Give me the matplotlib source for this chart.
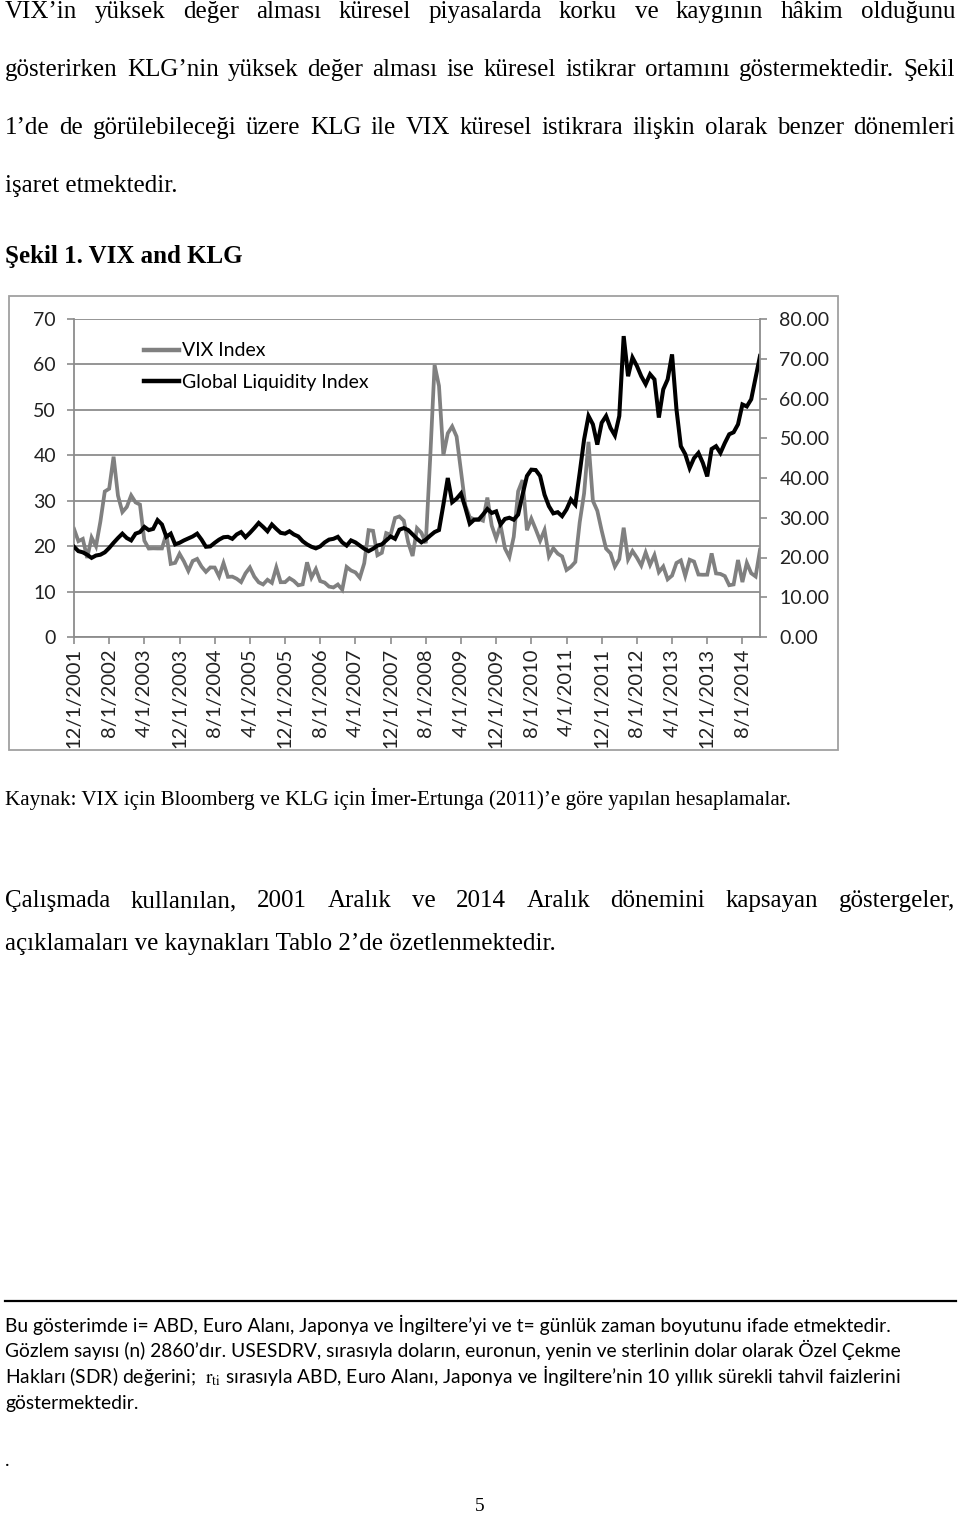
import matplotlib
matplotlib.use('Agg')
import matplotlib.pyplot as plt
import pandas as pd
from matplotlib.patches import Rectangle
from matplotlib.lines import Line2D

# aylik veriler: 12/2001 - 12/2014
vix = [23.80,
       21.09, 21.59, 17.40, 21.91, 19.98, 25.40, 32.03, 32.64, 39.69, 31.12, 27.50, 28.62,
       31.17, 29.63, 29.15, 21.21, 19.47, 19.52, 19.49, 19.49, 22.72, 16.10, 16.32, 18.31,
       16.63, 14.55, 16.74, 17.19, 15.50, 14.34, 15.32, 15.29, 13.34, 16.27, 13.24, 13.29,
       12.82, 12.08, 14.02, 15.31, 13.29, 12.04, 11.57, 12.60, 11.92, 15.32, 12.06, 12.07,
       12.95, 12.34, 11.39, 11.59, 16.44, 13.08, 14.95, 12.31, 11.98, 11.10, 10.91, 11.56,
       10.42, 15.42, 14.64, 14.22, 13.05, 16.23, 23.52, 23.38, 18.00, 18.53, 22.87, 22.50,
       26.20, 26.54, 25.61, 20.79, 17.83, 23.95, 22.94, 20.65, 39.39, 59.89, 55.28, 40.00,
       44.84, 46.35, 44.14, 36.50, 28.92, 26.35, 25.92, 26.01, 25.61, 30.69, 24.51, 21.68,
       24.62, 19.50, 17.59, 22.05, 32.07, 34.54, 23.50, 26.05, 23.70, 21.20, 23.54, 17.75,
       19.53, 18.35, 17.74, 14.75, 15.45, 16.52, 25.25, 31.62, 42.96, 29.96, 27.80, 23.40,
       19.44, 18.43, 15.50, 17.15, 24.06, 17.08, 18.93, 17.47, 15.73, 18.60, 15.87, 18.02,
       14.28, 15.51, 12.70, 13.52, 16.30, 16.86, 13.45, 17.01, 16.60, 13.75, 13.70, 13.72,
       18.41, 14.00, 13.88, 13.41, 11.40, 11.57, 16.95, 12.09, 16.31, 14.03, 13.33, 19.20]

klg = [22.7, 21.6, 21.3, 20.7, 19.9, 20.5, 20.7, 21.3, 22.4, 23.7, 24.9, 26.0, 24.9,
       24.3, 26.0, 26.4, 27.7, 26.9, 27.2, 29.4, 28.3, 25.2, 26.0, 23.3, 23.7, 24.3,
       24.8, 25.3, 26.0, 24.5, 22.7, 22.8, 23.7, 24.5, 25.1, 25.2, 24.7, 25.8, 26.4,
       25.1, 26.2, 27.4, 28.7, 27.7, 26.6, 28.3, 27.2, 26.2, 26.0, 26.6, 25.8, 25.3,
       24.1, 23.3, 22.7, 22.3, 22.8, 23.8, 24.5, 24.7, 25.2, 23.8, 23.0, 24.3, 23.8,
       23.0, 22.2, 21.6, 22.2, 23.0, 23.3, 24.3, 25.3, 24.7, 27.0, 27.4, 26.9, 25.8,
       24.7, 23.8, 24.5, 25.5, 26.4, 26.9, 33.3, 40.0, 33.9, 34.8, 36.1, 32.5, 28.5,
       29.5, 29.5, 30.8, 32.2, 31.2, 31.6, 28.3, 29.7, 30.0, 29.5, 30.8, 35.8, 40.5,
       42.1, 42.0, 40.5, 35.8, 32.9, 31.1, 31.4, 30.4, 32.1, 34.6, 33.3, 41.3, 49.7,
       55.6, 53.5, 48.4, 53.9, 55.6, 52.6, 50.7, 55.6, 75.7, 65.6, 70.3, 68.2, 65.6,
       63.6, 66.1, 64.8, 55.2, 62.3, 64.8, 71.1, 57.3, 48.0, 46.0, 42.5, 45.0, 46.3,
       43.8, 40.4, 47.3, 48.0, 46.3, 48.8, 51.0, 51.5, 53.5, 58.5, 58.0, 59.8, 65.2,
       70.7]

dates = pd.date_range('2001-12-01', periods=len(vix), freq='MS')
date_labels = ['%d/1/%d' % (d.month, d.year) for d in dates]

SERIF = 'Liberation Serif'
SANS = 'Lato'
plt.rcParams['mathtext.fontset'] = 'stix'

W, H = 960, 1513
fig = plt.figure(figsize=(9.6, 15.13), dpi=100)
renderer = fig.canvas.get_renderer()


def fx(px):
    return px / W


def fy(py):
    return 1 - py / H


def justify(y, line, x0, x1, size, family=SERIF):
    # kelimeleri iki kenara yasli dizer
    words = line.split(' ')
    texts = [fig.text(0, fy(y), w, fontsize=size, family=family, va='baseline') for w in words]
    widths = [t.get_window_extent(renderer).width for t in texts]
    gap = (x1 - x0 - sum(widths)) / (len(words) - 1)
    pos = x0
    for t, wd in zip(texts, widths):
        t.set_x(fx(pos))
        pos += wd + gap


def plain(x, y, line, size, family=SERIF, **kw):
    fig.text(fx(x), fy(y), line, fontsize=size, family=family, va='baseline', **kw)


# ust paragraf
body = 18
justify(18, 'VIX’in yüksek değer alması küresel piyasalarda korku ve kaygının hâkim olduğunu', 5, 955, body)
justify(76, 'gösterirken KLG’nin yüksek değer alması ise küresel istikrar ortamını göstermektedir. Şekil', 5, 955, body)
justify(134, '1’de de görülebileceği üzere KLG ile VIX küresel istikrara ilişkin olarak benzer dönemleri', 5, 955, body)
plain(5, 192, 'işaret etmektedir.', body)
plain(5, 263, 'Şekil 1. VIX and KLG', body, weight='bold')

# grafik cercevesi
fig.patches.append(Rectangle((fx(9), fy(750)), fx(838) - fx(9), fy(296) - fy(750),
                             transform=fig.transFigure, fill=False, edgecolor='#a0a0a0', lw=1.3))

ax = fig.add_axes([fx(74), fy(637), fx(760) - fx(74), fy(319) - fy(637)])
x = range(len(vix))
ax.plot(x, vix, color='#808080', lw=2.7, solid_joinstyle='miter')
ax2 = ax.twinx()
ax2.plot(x, klg, color='black', lw=2.9, solid_joinstyle='miter')

ax.set_xlim(0, len(vix) - 1)
ax.set_ylim(0, 70)
ax2.set_ylim(0, 80)
ax.set_yticks(range(0, 71, 10))
ax2.set_yticks(range(0, 81, 10))
ax2.set_yticklabels(['%.2f' % v for v in range(0, 81, 10)])
ax.set_xticks(range(0, len(vix), 8))
ax.set_xticklabels(date_labels[::8], rotation=90, ha='center', va='top')

ax.yaxis.grid(True, color='#8c8c8c', lw=1.3)
ax.set_axisbelow(True)
for a in (ax, ax2):
    for s in a.spines.values():
        s.set_visible(False)
ax.spines['left'].set_visible(True)
ax.spines['bottom'].set_visible(True)
ax2.spines['right'].set_visible(True)
for s in (ax.spines['left'], ax.spines['bottom'], ax2.spines['right']):
    s.set_color('#8c8c8c')
    s.set_linewidth(1.3)

ax.tick_params(axis='y', direction='out', length=5, color='#8c8c8c', width=1.2,
               labelsize=14, pad=8, labelcolor='#222222')
ax.tick_params(axis='x', direction='out', length=5, color='#8c8c8c', width=1.2,
               labelsize=14.5, pad=3, labelcolor='#222222')
ax2.tick_params(axis='y', direction='out', length=5, color='#8c8c8c', width=1.2,
                labelsize=14, pad=9, labelcolor='#222222')
for lab in ax.get_xticklabels() + ax.get_yticklabels() + ax2.get_yticklabels():
    lab.set_family(SANS)

handles = [Line2D([], [], color='#808080', lw=3.2), Line2D([], [], color='black', lw=3.2)]
leg = ax.legend(handles, ['VIX Index', 'Global Liquidity Index'], loc='upper left',
                bbox_to_anchor=(fx(126), fy(325)), bbox_transform=fig.transFigure,
                frameon=False, handlelength=1.8, handletextpad=0.2, labelspacing=0.75,
                prop={'family': SANS, 'size': 14})

# kaynak
plain(5, 805, 'Kaynak: VIX için Bloomberg ve KLG için İmer-Ertunga (2011)’e göre yapılan hesaplamalar.', 15.1)

justify(907, 'Çalışmada kullanılan, 2001 Aralık ve 2014 Aralık dönemini kapsayan göstergeler,', 5, 955, body)
plain(5, 950, 'açıklamaları ve kaynakları Tablo 2’de özetlenmektedir.', body)

# dipnot
fig.add_artist(Line2D([fx(5), fx(956)], [fy(1301), fy(1301)], color='black', lw=1.6))
foot = 13.9
plain(5, 1332, 'Bu gösterimde i= ABD, Euro Alanı, Japonya ve İngiltere’yi ve t= günlük zaman boyutunu ifade etmektedir.', foot, SANS)
plain(5, 1357.5, 'Gözlem sayısı (n) 2860’dır. USESDRV, sırasıyla doların, euronun, yenin ve sterlinin dolar olarak Özel Çekme', foot, SANS)
plain(5, 1383, 'Hakları (SDR) değerini;  $\\mathrm{r}_{\\mathrm{ti}}$ sırasıyla ABD, Euro Alanı, Japonya ve İngiltere’nin 10 yıllık sürekli tahvil faizlerini', foot, SANS)
plain(5, 1408.5, 'göstermektedir.', foot, SANS)
plain(5, 1466, '.', foot, SANS)
plain(480, 1511, '5', 14, SERIF, ha='center')

fig.savefig('out.png', dpi=100)
